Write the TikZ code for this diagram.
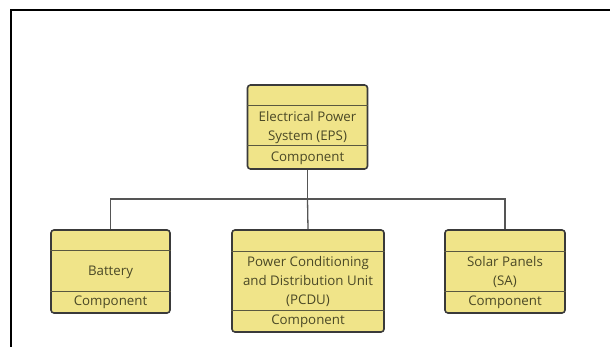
\documentclass[tikz,border=0pt]{standalone}
\usepackage{fontspec}
\setmainfont{Open Sans}
\definecolor{boxfill}{HTML}{F0E489}
\definecolor{boxdraw}{HTML}{3A3A3A}
\definecolor{txtcol}{HTML}{4A4826}
\definecolor{divcol}{HTML}{5A5840}
\definecolor{connector}{HTML}{555555}
\tikzset{
  umlbox/.style={draw=boxdraw, line width=1.6pt, fill=boxfill, rounded corners=3pt, inner sep=0pt},
  divider/.style={draw=divcol, line width=0.9pt},
  label/.style={text=txtcol, font=\fontsize{13.3}{19}\selectfont, align=center, inner sep=0pt},
  conn/.style={draw=connector, line width=1.3pt},
}
\begin{document}
\begin{tikzpicture}[x=1pt,y=-1pt]
\useasboundingbox (0,0) rectangle (610,347);
\fill[white] (0,0) rectangle (610,347);
% frame
\draw[line width=2pt, black] (11,347) -- (11,10) -- (610,10);

% EPS
\node[umlbox, minimum width=120pt, minimum height=84pt] (eps) at (307.5,127) {};
\draw[divider] ([yshift=-21pt]eps.north west) -- ([yshift=-21pt]eps.north east);
\draw[divider] ([yshift=24pt]eps.south west) -- ([yshift=24pt]eps.south east);
\node[label] (epsname) at (307.5,128) {Electrical Power\\System (EPS)};
\node[label] (epsst) at (307.5,158) {Component};

% Battery
\node[umlbox, minimum width=119pt, minimum height=83pt] (bat) at (110.5,271.5) {};
\draw[divider] ([yshift=-21pt]bat.north west) -- ([yshift=-21pt]bat.north east);
\draw[divider] ([yshift=22pt]bat.south west) -- ([yshift=22pt]bat.south east);
\node[label] (batname) at (110.5,272) {Battery};
\node[label] (batst) at (110.5,302) {Component};

% PCDU
\node[umlbox, minimum width=152pt, minimum height=102pt] (pcdu) at (308,281) {};
\draw[divider] ([yshift=-22pt]pcdu.north west) -- ([yshift=-22pt]pcdu.north east);
\draw[divider] ([yshift=22pt]pcdu.south west) -- ([yshift=22pt]pcdu.south east);
\node[label] (pcduname) at (308,281.5) {Power Conditioning\\and Distribution Unit\\(PCDU)};
\node[label] (pcdust) at (308,321) {Component};

% Solar
\node[umlbox, minimum width=120pt, minimum height=83pt] (sa) at (505,271.5) {};
\draw[divider] ([yshift=-22pt]sa.north west) -- ([yshift=-22pt]sa.north east);
\draw[divider] ([yshift=22pt]sa.south west) -- ([yshift=22pt]sa.south east);
\node[label] (saname) at (505,272) {Solar Panels\\(SA)};
\node[label] (sast) at (505,302) {Component};

% connectors
\coordinate (bus) at (307.5,199);
\draw[conn] (eps.south) -- (bus);
\draw[conn] (bus) -| (bat.north);
\draw[conn] (bus) -- (pcdu.north);
\draw[conn] (bus) -| (sa.north);
\end{tikzpicture}
\end{document}
